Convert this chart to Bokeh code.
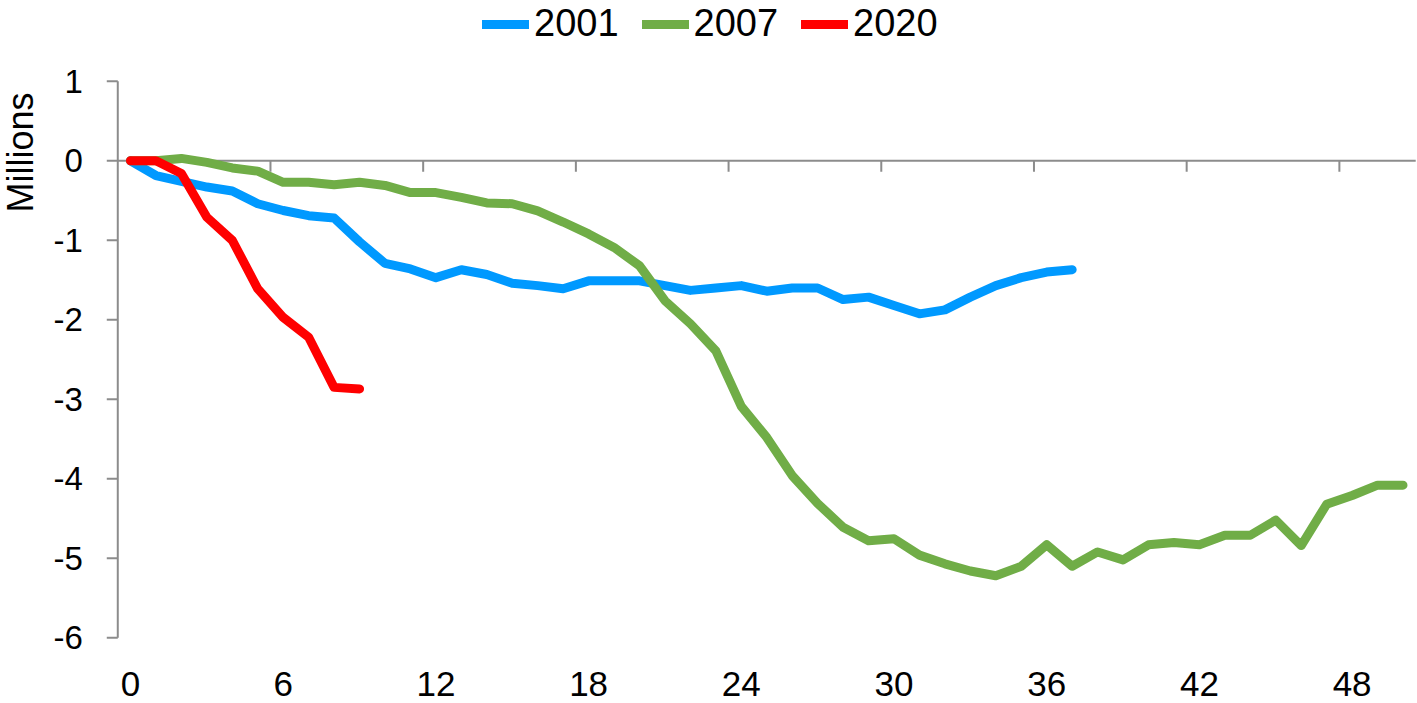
import math
from bokeh.plotting import figure
from bokeh.models import Legend, LegendItem, Range1d
from bokeh.core.properties import value
from bokeh.embed import file_html
from bokeh.resources import INLINE

# ---- data (millions of jobs, change since start of recession; months) ----
y2001 = [0, -0.185, -0.26, -0.33, -0.38, -0.54, -0.625, -0.69, -0.72, -1.02,
         -1.29, -1.36, -1.47, -1.37, -1.43, -1.54, -1.57, -1.61, -1.51, -1.51,
         -1.51, -1.57, -1.63, -1.60, -1.57, -1.64, -1.60, -1.60, -1.745, -1.715,
         -1.82, -1.925, -1.875, -1.715, -1.57, -1.47, -1.40, -1.37]
y2007 = [0, 0.0, 0.03, -0.02, -0.09, -0.13, -0.27, -0.27, -0.30, -0.27,
         -0.31, -0.40, -0.40, -0.46, -0.53, -0.54, -0.63, -0.77, -0.92, -1.09,
         -1.32, -1.76, -2.05, -2.39, -3.09, -3.48, -3.96, -4.31, -4.61, -4.78,
         -4.755, -4.96, -5.07, -5.16, -5.22, -5.10, -4.83, -5.10, -4.92, -5.02,
         -4.83, -4.80, -4.83, -4.71, -4.71, -4.52, -4.84, -4.32, -4.21, -4.08,
         -4.08]
y2020 = [0, 0, -0.16, -0.71, -1.0, -1.61, -1.97, -2.22, -2.85, -2.87]

series_names = ["2001", "2007", "2020"]
series_colors = ["#0099FF", "#70AD47", "#FF0000"]
x_tick_labels = [0, 6, 12, 18, 24, 30, 36, 42, 48]
y_ticks = [-6, -5, -4, -3, -2, -1, 0, 1]
y_title = "Millions"

FONT = "Liberation Sans"
AXIS_COLOR = "#8C8C8C"

# ---- canvas / scale set-up (the frame covers the whole canvas) ----
W, H = 1417, 703
PX_X = 25.45          # pixels per month
PX_Y = 79.5           # pixels per million
X0 = 130              # canvas x of month 0
Y0 = 160.3            # canvas y (from top) of value 0

n_cat = len(y2007)
x_lo, x_hi = -0.5, n_cat - 0.5
y_lo, y_hi = min(y_ticks), max(y_ticks)

p = figure(width=W, height=H, output_backend="svg", toolbar_location=None,
           x_range=Range1d(-X0 / PX_X, (W - X0) / PX_X),
           y_range=Range1d(-(H - Y0) / PX_Y, Y0 / PX_Y),
           min_border=0, min_border_left=0, min_border_right=0,
           min_border_top=0, min_border_bottom=0)
p.outline_line_color = None
p.xaxis.visible = False
p.yaxis.visible = False
p.xgrid.visible = False
p.ygrid.visible = False

tick_len_x = 11 / PX_X
tick_len_y = 11 / PX_Y

# y axis line, ticks and labels
p.segment(x0=[x_lo], y0=[y_lo], x1=[x_lo], y1=[y_hi], line_color=AXIS_COLOR, line_width=2)
p.segment(x0=[x_lo - tick_len_x] * len(y_ticks), y0=y_ticks,
          x1=[x_lo] * len(y_ticks), y1=y_ticks, line_color=AXIS_COLOR, line_width=2)
p.text(x=[x_lo - 35 / PX_X] * len(y_ticks), y=y_ticks, text=[str(t) for t in y_ticks],
       text_align="right", text_baseline="middle", text_font=value(FONT),
       text_font_size="33px", text_color="black")

# x axis line at zero, category ticks and labels
cat_ticks = [i - 0.5 for i in range(6, n_cat, 6)]
p.segment(x0=[x_lo], y0=[0], x1=[x_hi], y1=[0], line_color=AXIS_COLOR, line_width=2)
p.segment(x0=cat_ticks, y0=[0] * len(cat_ticks), x1=cat_ticks,
          y1=[-tick_len_y] * len(cat_ticks), line_color=AXIS_COLOR, line_width=2)
p.text(x=x_tick_labels, y=[y_lo - 46 / PX_Y] * len(x_tick_labels),
       text=[str(t) for t in x_tick_labels], text_align="center",
       text_baseline="middle", text_font=value(FONT), text_font_size="35px",
       text_color="black")

# axis title
p.text(x=[(20 - X0) / PX_X], y=[(Y0 - 152) / PX_Y], text=[y_title], angle=math.pi / 2,
       text_align="center", text_baseline="middle", text_font=value(FONT),
       text_font_size="36px", text_color="black")

renderers = []
for name, ys, col in zip(series_names, [y2001, y2007, y2020], series_colors):
    r = p.line(list(range(len(ys))), ys, line_color=col, line_width=9,
               line_cap="round", line_join="round")
    renderers.append(r)

legend = Legend(items=[LegendItem(label=n, renderers=[r]) for n, r in zip(series_names, renderers)],
                orientation="horizontal", location=(482, H - 45),
                label_text_font=FONT, label_text_font_size="38px",
                label_text_color="black", glyph_width=47, glyph_height=20,
                label_standoff=5, spacing=23, padding=0, margin=0,
                border_line_color=None, background_fill_alpha=0)
p.add_layout(legend, "center")

open("out.html", "w").write(file_html(p, INLINE))
